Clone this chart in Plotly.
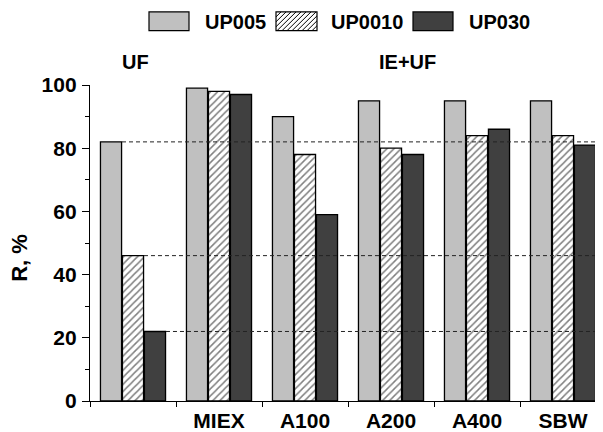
import plotly.graph_objects as go

# ---- data ----
categories = [" ", "MIEX", "A100", "A200", "A400", "SBW"]
series_names = ["UP005", "UP0010", "UP030"]
up005 = [82, 99, 90, 95, 95, 95]
up0010 = [46, 98, 78, 80, 84, 84]
up030 = [22, 97, 59, 78, 86, 81]
y_ticks = [0, 20, 40, 60, 80, 100]

FONT = "Liberation Sans, Arial, sans-serif"
OFF = 8  # default page body margin
W, H = 603 - OFF, 432 - OFF
ML, MR, MT = 90 - OFF, 0, 85 - OFF
PLOT_BOTTOM = 405 - OFF
MB = H - PLOT_BOTTOM
PW, PH = W - ML - MR, H - MT - MB
CAT_PX = 86.0
x_range = [-0.5, -0.5 + PW / CAT_PX]
BARGAP = 0.233
BARGROUPGAP = 0.04

# convert reference-image pixel positions to paper coordinates
def px2paper_x(px):
    return (px - OFF - ML) / PW

def px2paper_y(py):
    return (PLOT_BOTTOM - (py - OFF)) / PH

gray = "#c0c0c0"
dark = "#404040"
edge = dict(color="black", width=1.3)

fig = go.Figure()
fig.add_trace(go.Bar(x=categories, y=up005, name=series_names[0],
                     marker=dict(color=gray, line=edge), showlegend=False))
fig.add_trace(go.Bar(x=categories, y=up0010, name=series_names[1],
                     marker=dict(color="white", line=edge,
                                 pattern=dict(shape="/", size=5, solidity=0.3,
                                              fgcolor="black", bgcolor="white",
                                              fillmode="overlay")),
                     showlegend=False))
fig.add_trace(go.Bar(x=categories, y=up030, name=series_names[2],
                     marker=dict(color=dark, line=edge), showlegend=False))

# dashed reference lines from the tops of the UF bars
slot = (1 - BARGAP) / 3
for i, vals in enumerate([up005, up0010, up030]):
    right_edge = -(1 - BARGAP) / 2 + slot * (i + 1)
    fig.add_shape(type="line", xref="x", yref="y",
                  x0=right_edge, x1=x_range[1], y0=vals[0], y1=vals[0],
                  line=dict(color="#222222", width=1, dash="4px,3px"),
                  layer="above")

# custom legend (boxes + labels)
legend_items = [
    (149, 189, 203, gray, False),
    (276, 317, 329, "white", True),
    (413, 453, 467, dark, False),
]
box_top, box_bot = 11, 30
for (bx0, bx1, tx, col, hatched), name in zip(legend_items, series_names):
    fig.add_shape(type="rect", xref="paper", yref="paper",
                  x0=px2paper_x(bx0), x1=px2paper_x(bx1),
                  y0=px2paper_y(box_bot), y1=px2paper_y(box_top),
                  fillcolor=col, line=dict(color="black", width=1.2))
    if hatched:
        h = box_bot - box_top
        segs = []
        s = 5
        c = bx0 - h
        while c < bx1:
            t0 = max(0, bx0 - c)
            t1 = min(h, bx1 - c)
            if t1 > t0:
                xa, ya = c + t0, box_bot - t0
                xb, yb = c + t1, box_bot - t1
                segs.append(f"M{px2paper_x(xa)},{px2paper_y(ya)} L{px2paper_x(xb)},{px2paper_y(yb)}")
            c += s
        fig.add_shape(type="path", xref="paper", yref="paper", path=" ".join(segs),
                      line=dict(color="black", width=1))
    fig.add_annotation(xref="paper", yref="paper", x=px2paper_x(tx), y=px2paper_y(21),
                       text=name, showarrow=False, xanchor="left", yanchor="middle",
                       font=dict(family=FONT, size=20, color="black", weight="bold"))

# group labels
for label, cx in [("UF", 135), ("IE+UF", 407)]:
    fig.add_annotation(xref="paper", yref="paper", x=px2paper_x(cx), y=px2paper_y(62),
                       text=label, showarrow=False, xanchor="center", yanchor="middle",
                       font=dict(family=FONT, size=20, color="black", weight="bold"))

# y axis title
fig.add_annotation(xref="paper", yref="paper", x=px2paper_x(20), y=px2paper_y(260),
                   text="R, %", showarrow=False, textangle=-90,
                   xanchor="center", yanchor="middle",
                   font=dict(family=FONT, size=22, color="black", weight="bold"))

fig.update_layout(
    width=W, height=H,
    margin=dict(l=ML, r=MR, t=MT, b=MB, pad=0),
    paper_bgcolor="white", plot_bgcolor="white",
    barmode="group", bargap=BARGAP, bargroupgap=BARGROUPGAP,
    showlegend=False,
    xaxis=dict(type="category", categoryorder="array", categoryarray=categories,
               range=x_range, tickson="boundaries", ticks="outside", ticklen=5,
               tickwidth=1.2, tickcolor="black", showline=True, linecolor="black",
               linewidth=1.3, showgrid=False, zeroline=False, ticklabelstandoff=1,
               tickfont=dict(family=FONT, size=21, color="black", weight="bold")),
    yaxis=dict(range=[0, 100], tickvals=y_ticks, ticks="outside", ticklen=7,
               tickwidth=1.2, tickcolor="black", showline=True, linecolor="black",
               linewidth=1.3, showgrid=False, zeroline=False, ticklabelstandoff=1,
               minor=dict(dtick=10, ticks="outside", ticklen=4, tickwidth=1.2,
                          tickcolor="black", showgrid=False),
               tickfont=dict(family=FONT, size=21, color="black", weight="bold")),
)

fig.write_html("out.html")
